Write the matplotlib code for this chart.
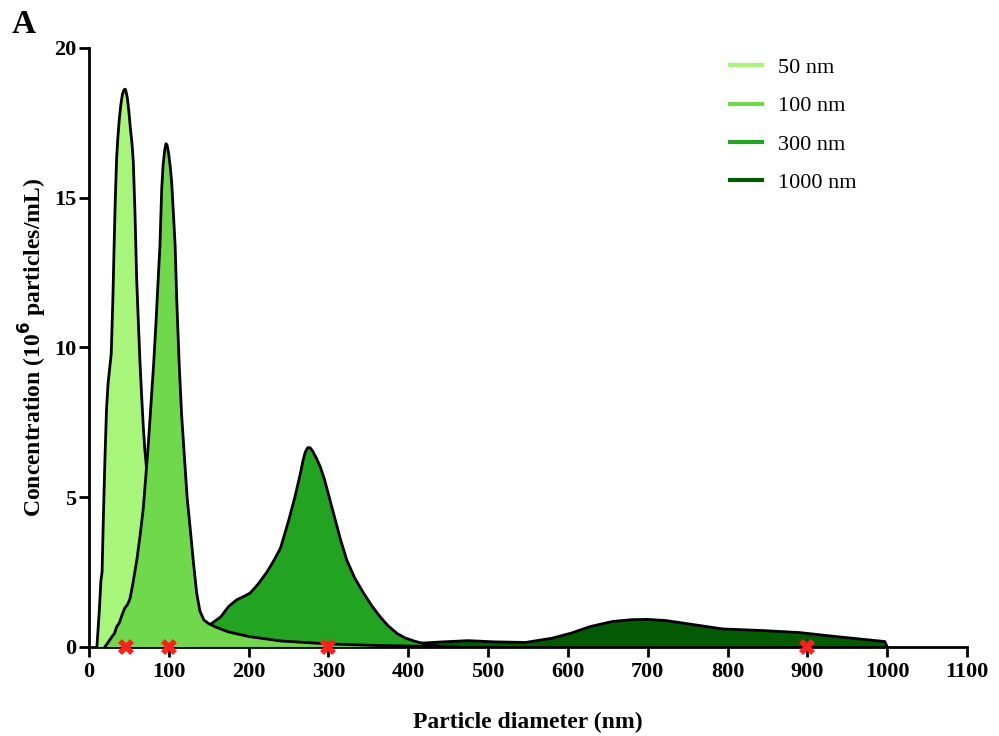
import matplotlib
matplotlib.use("Agg")
import matplotlib.pyplot as plt
from matplotlib.lines import Line2D

plt.rcParams['font.family'] = ['Liberation Serif', 'DejaVu Serif']

# ---- data ----
labels = ["50 nm", "100 nm", "300 nm", "1000 nm"]
colors = ["#a8f57c", "#6fd94b", "#22a322", "#045a04"]

x50 = [10, 13, 15, 16.5, 18, 20, 22, 24, 26, 28, 30, 31.5, 33, 34.7, 36, 38, 40, 42, 44,
       45, 46, 48, 50, 52, 54, 55.6, 57.7, 59.8, 62, 64, 66, 68, 70, 72.4, 75, 78, 82,
       88, 95, 105, 120, 140]
y50 = [0, 1.2, 2.2, 2.5, 4.2, 6.2, 7.9, 8.8, 9.3, 9.8, 11.6, 13.3, 14.9, 16.3, 16.9,
       17.6, 18.1, 18.45, 18.6, 18.62, 18.6, 18.35, 17.9, 17.3, 16.8, 16.2, 14.5, 12.3,
       10.8, 9.5, 8.4, 7.4, 6.6, 5.9, 4.9, 4.0, 3.0, 2.0, 1.2, 0.6, 0.25, 0]

x100 = [20, 24, 28.5, 32, 34.7, 38, 42, 45, 48, 51.4, 55, 60, 64, 68, 71, 74.5, 78, 81,
        84, 87, 89, 91.2, 93, 95, 96.6, 98, 100, 102, 103.7, 106, 108, 110, 113, 116,
        120, 123, 126.7, 131, 135, 139, 144, 150, 160, 175, 200, 240, 300, 360, 420, 460]
y100 = [0, 0.15, 0.33, 0.45, 0.67, 0.8, 1.1, 1.3, 1.4, 1.6, 2.1, 2.9, 3.7, 4.6, 5.6, 6.8,
        8.2, 9.4, 10.8, 12.4, 13.4, 15.3, 16.1, 16.6, 16.8, 16.75, 16.45, 16.0, 15.5,
        14.4, 13.4, 11.6, 9.5, 7.8, 6.2, 5.0, 4.0, 2.8, 1.8, 1.2, 0.9, 0.78, 0.65, 0.5,
        0.35, 0.2, 0.1, 0.05, 0.02, 0]

x300 = [100, 120, 140, 152, 165, 175, 185, 195, 202, 212, 223, 232, 240, 250, 258, 265,
        268, 271, 274, 277, 280, 285, 290, 295, 305, 315, 323, 333, 344, 355, 365, 375,
        386, 396, 407, 418, 428, 445]
y300 = [0, 0.1, 0.4, 0.75, 1.0, 1.35, 1.57, 1.7, 1.8, 2.1, 2.5, 2.9, 3.3, 4.2, 5.0, 5.8,
        6.2, 6.5, 6.65, 6.65, 6.55, 6.3, 6.0, 5.6, 4.6, 3.6, 2.9, 2.3, 1.8, 1.35, 1.0,
        0.7, 0.45, 0.3, 0.2, 0.12, 0.07, 0]

x1000 = [250, 300, 350, 400, 437, 475, 508, 547, 580, 604, 628, 656, 680, 700, 723, 761,
         794, 842, 890, 938, 975, 997, 1000]
y1000 = [0, 0.03, 0.06, 0.1, 0.16, 0.21, 0.17, 0.15, 0.29, 0.46, 0.68, 0.85, 0.91, 0.92,
         0.88, 0.73, 0.6, 0.55, 0.48, 0.34, 0.24, 0.18, 0]

marker_x = [46, 100, 300, 900]
marker_y = [0, 0, 0, 0]

xticks = list(range(0, 1101, 100))
yticks = [0, 5, 10, 15, 20]

# ---- figure ----
fig = plt.figure(figsize=(9.99, 7.36), dpi=100)
ax = fig.add_axes([0.089, 0.121, 0.879, 0.814])

series = [(x1000, y1000, colors[3], 1), (x300, y300, colors[2], 2),
          (x50, y50, colors[0], 3), (x100, y100, colors[1], 4)]
for xs, ys, c, z in series:
    ax.fill_between(xs, ys, 0, facecolor=c, edgecolor='none', zorder=z)
    ax.plot(xs, ys, color='black', lw=2, zorder=z + 0.5, solid_joinstyle='round')

ax.plot(marker_x, marker_y, linestyle='none', marker='X', markersize=12,
        color='#ff2020', markeredgewidth=0, zorder=10, clip_on=False)

ax.set_xlim(0, 1100)
ax.set_ylim(0, 20)
ax.set_xticks(xticks)
ax.set_yticks(yticks)
for s in ['top', 'right']:
    ax.spines[s].set_visible(False)
for s in ['left', 'bottom']:
    ax.spines[s].set_linewidth(2)
ax.tick_params(direction='out', length=7, width=2, labelsize=16)
ax.tick_params(axis='x', pad=4)
ax.tick_params(axis='y', pad=2)
for lab in ax.get_xticklabels() + ax.get_yticklabels():
    lab.set_fontweight('bold')

ax.set_xlabel('Particle diameter (nm)', fontsize=17, fontweight='bold', labelpad=21)
ax.set_ylabel('Concentration (10$^\\mathbf{6}$ particles/mL)', fontsize=17,
              fontweight='bold', labelpad=4)

handles = [Line2D([0], [0], color=c, lw=3) for c in colors]
fig.legend(handles, labels, loc='upper left', bbox_to_anchor=(0.731, 0.922),
           frameon=False, fontsize=16, labelspacing=0.8, handlelength=1.45,
           handletextpad=0.72, borderpad=0, borderaxespad=0)

fig.text(0.012, 0.955, 'A', fontsize=24, fontweight='bold')

fig.savefig('out.png', dpi=100)
